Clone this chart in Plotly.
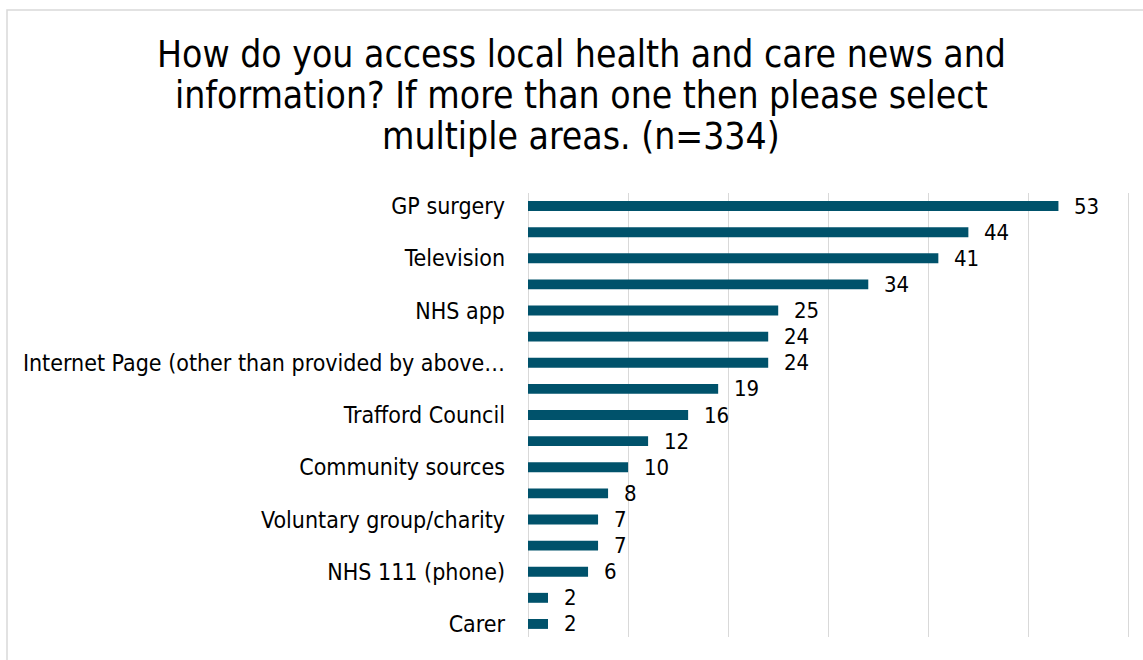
import plotly.graph_objects as go

# Survey responses (count), top to bottom; only alternate categories carry a visible label
labels = [
    "GP surgery", "", "Television", "", "NHS app", "",
    "Internet Page (other than provided by above…", "", "Trafford Council", "",
    "Community sources", "", "Voluntary group/charity", "", "NHS 111 (phone)", "", "Carer",
]
values = [53, 44, 41, 34, 25, 24, 24, 19, 16, 12, 10, 8, 7, 7, 6, 2, 2]

title_lines = [
    "How do you access local health and care news and",
    "information? If more than one then please select",
    "multiple areas. (n=334)",
]

X_MAX = 60

FONT = "DejaVu Sans Condensed"
BAR = "#00526b"
GRID = "#d9d9d9"

# plot-area geometry in pixels (used to place the frame and title in paper units)
H, W = 660, 1143
M_L, M_R, M_T, M_B = 528, 14, 193, 23
PH = H - M_T - M_B
PW = W - M_L - M_R


def py_to_paper(py):
    return (H - M_B - py) / PH


def px_to_paper(px):
    return (px - M_L) / PW


positions = list(range(len(values)))
tick_pos = [p for p, t in zip(positions, labels) if t]
tick_txt = [t for t in labels if t]

fig = go.Figure(
    go.Bar(
        x=values,
        y=positions,
        orientation="h",
        width=0.38,
        marker=dict(color=BAR, line=dict(width=0)),
        hoverinfo="x",
    )
)

# value labels to the right of each bar
for p, v in zip(positions, values):
    fig.add_annotation(
        x=v, y=p, xref="x", yref="y",
        text=str(v), showarrow=False,
        xanchor="left", yanchor="middle",
        xshift=14,
        font=dict(family=FONT, size=22, color="#000000"),
    )

# three-line chart title
for i, line in enumerate(title_lines):
    fig.add_annotation(
        x=px_to_paper(581), y=py_to_paper(54 + i * 41.5),
        xref="paper", yref="paper",
        text=line, showarrow=False,
        xanchor="center", yanchor="middle",
        font=dict(family=FONT, size=37, color="#000000"),
    )

fig.update_layout(
    width=W,
    height=H,
    paper_bgcolor="white",
    plot_bgcolor="white",
    margin=dict(l=M_L, r=M_R, t=M_T, b=M_B),
    showlegend=False,
    font=dict(family=FONT, color="#000000"),
)

fig.update_xaxes(
    range=[0, X_MAX + 0.05],
    tickmode="array",
    tickvals=list(range(0, X_MAX + 1, 10)),
    showgrid=True,
    gridcolor=GRID,
    gridwidth=1,
    zeroline=True,
    zerolinecolor=GRID,
    zerolinewidth=1,
    showticklabels=False,
    showline=False,
    fixedrange=True,
)

fig.update_yaxes(
    range=[len(values) - 0.5, -0.5],
    tickmode="array",
    tickvals=tick_pos,
    ticktext=tick_txt,
    tickfont=dict(family=FONT, size=23, color="#000000"),
    ticks="",
    ticklabelstandoff=22,
    showgrid=False,
    zeroline=False,
    showline=False,
    fixedrange=True,
)

# gridline at the axis maximum (sits on the plot edge)
fig.add_shape(
    type="line",
    xref="x", yref="paper",
    x0=X_MAX, x1=X_MAX, y0=0, y1=1,
    line=dict(color=GRID, width=1),
    layer="below",
)

# Outer chart frame (left and top edges visible)
fig.add_shape(
    type="rect",
    xref="paper", yref="paper",
    x0=px_to_paper(7), x1=px_to_paper(1160),
    y0=py_to_paper(680), y1=py_to_paper(10),
    line=dict(color=GRID, width=1.5),
    fillcolor="rgba(0,0,0,0)",
    layer="below",
)

fig.write_html("out.html", config={"displayModeBar": False})
